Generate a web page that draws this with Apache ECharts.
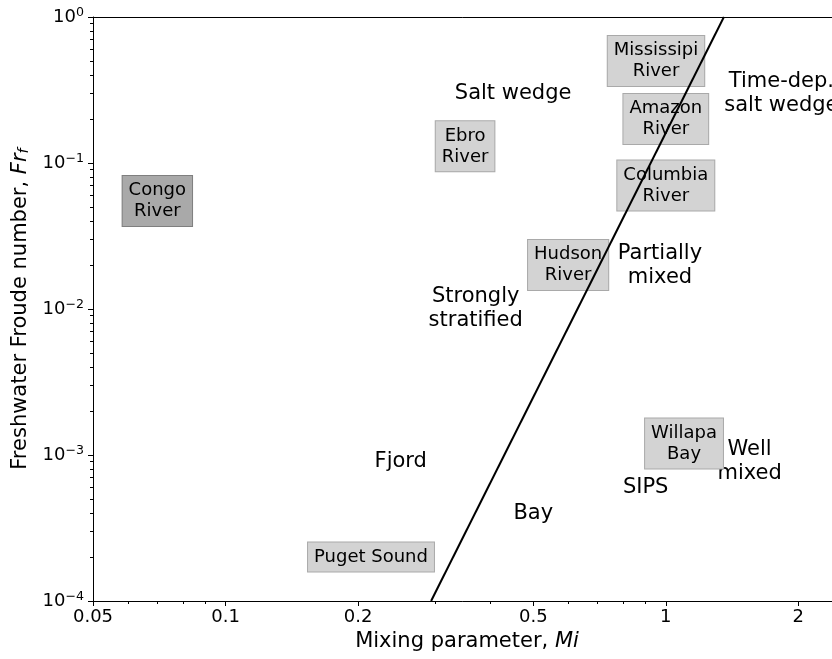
<!DOCTYPE html>
<html><head><meta charset="utf-8">
<script src="https://cdn.jsdelivr.net/npm/echarts@6/dist/echarts.min.js"></script>
<style>html,body{margin:0;padding:0;background:#fff}#c{width:832px;height:659px}</style>
</head><body><div id="c"></div>
<script>
// ---- axis ranges and ticks ----
const xRange = [0.05, 2.5];
const yRange = [1e-4, 1];
const xMajorTicks = [0.05, 0.1, 0.2, 0.5, 1, 2];
const xMinorTicks = [0.06, 0.07, 0.08, 0.09, 0.3, 0.4, 0.6, 0.7, 0.8, 0.9];
const yMajorTicks = [1e-4, 1e-3, 1e-2, 1e-1, 1];
const yMinorTicks = [
  2e-4, 3e-4, 4e-4, 5e-4, 6e-4, 7e-4, 8e-4, 9e-4,
  2e-3, 3e-3, 4e-3, 5e-3, 6e-3, 7e-3, 8e-3, 9e-3,
  2e-2, 3e-2, 4e-2, 5e-2, 6e-2, 7e-2, 8e-2, 9e-2,
  0.2, 0.3, 0.4, 0.5, 0.6, 0.7, 0.8, 0.9
];

// ---- regime boundary line ----
const boundaryMi = [0.293, 1.355];
const boundaryFr = [1e-4, 1];

// ---- estuaries (boxed labels) ----
const estuaryNames = ['Congo\nRiver', 'Ebro\nRiver', 'Mississipi\nRiver', 'Amazon\nRiver',
                      'Columbia\nRiver', 'Hudson\nRiver', 'Willapa\nBay', 'Puget Sound'];
const estuaryMi = [0.07, 0.35, 0.95, 1.0, 1.0, 0.6, 1.1, 0.214];
const estuaryFr = [0.055, 0.13, 0.5, 0.2, 0.07, 0.02, 0.0012, 0.0002];
const estuaryDark = [true, false, false, false, false, false, false, false];

// ---- regime names ----
const regimeNames = ['Salt wedge', 'Time-dep.\nsalt wedge', 'Partially\nmixed', 'Strongly\nstratified',
                     'Fjord', 'Bay', 'SIPS', 'Well\nmixed'];
const regimeMi = [0.45, 1.83, 0.97, 0.37, 0.25, 0.5, 0.9, 1.55];
const regimeFr = [0.3, 0.3, 0.02, 0.01, 0.0009, 0.0004, 0.0006, 0.0009];

const FONT = 'DejaVu Sans';

function fmtX(v) { return String(+(+v).toPrecision(6)); }
function fmtY(v) {
  const e = Math.round(Math.log10(v));
  const s = e < 0 ? '\u2212' + (-e) : String(e);
  return '{b|10}{s|' + s + '}';
}

const chart = echarts.init(document.getElementById('c'), null, {renderer: 'canvas'});

const baseX = {
  type: 'log', logBase: 10, min: xRange[0], max: xRange[1], gridIndex: 0,
  splitLine: {show: false}, minorTick: {show: false}, minorSplitLine: {show: false}
};
const baseY = {
  type: 'log', logBase: 10, min: yRange[0], max: yRange[1], gridIndex: 0,
  splitLine: {show: false}, minorTick: {show: false}, minorSplitLine: {show: false}
};

const option = {
  animation: false,
  backgroundColor: '#fff',
  textStyle: {fontFamily: FONT},
  grid: {left: 93, top: 17, width: 748, height: 584, containLabel: false, outerBoundsMode: 'none', show: false},
  xAxis: [
    Object.assign({}, baseX, {
      position: 'bottom',
      axisLine: {show: true, lineStyle: {color: '#000', width: 1}},
      axisTick: {show: true, length: 5, lineStyle: {color: '#000', width: 1}, customValues: xMajorTicks},
      axisLabel: {show: true, margin: 7, color: '#000', fontSize: 18, fontFamily: FONT,
                  customValues: xMajorTicks, formatter: fmtX},
      name: '{n|Mixing parameter, }{i|Mi}', nameLocation: 'middle', nameGap: 27,
      nameTextStyle: {color: '#000', fontSize: 21, fontFamily: FONT,
        rich: {n: {fontSize: 21, fontFamily: FONT, color: '#000'},
               i: {fontSize: 21, fontFamily: FONT, fontStyle: 'italic', color: '#000'}}}
    }),
    Object.assign({}, baseX, {
      position: 'bottom',
      axisLine: {show: false},
      axisTick: {show: true, length: 3, lineStyle: {color: '#000', width: 1}, customValues: xMinorTicks},
      axisLabel: {show: false}
    }),
    Object.assign({}, baseX, {
      position: 'top',
      axisLine: {show: true, lineStyle: {color: '#000', width: 1}},
      axisTick: {show: false},
      axisLabel: {show: false}
    })
  ],
  yAxis: [
    Object.assign({}, baseY, {
      position: 'left',
      axisLine: {show: true, lineStyle: {color: '#000', width: 1}},
      axisTick: {show: true, length: 5, lineStyle: {color: '#000', width: 1}, customValues: yMajorTicks},
      axisLabel: {show: true, margin: 9, color: '#000', fontFamily: FONT,
                  customValues: yMajorTicks, formatter: fmtY,
                  rich: {b: {fontSize: 18, fontFamily: FONT, color: '#000', lineHeight: 21},
                         s: {fontSize: 12.6, fontFamily: FONT, color: '#000', lineHeight: 13, padding: [0, 0, 8, 0]}}},
      name: '{n|Freshwater Froude number, }{i|Fr}{sub|f}', nameLocation: 'middle', nameGap: 60,
      nameRotate: 90,
      nameTextStyle: {color: '#000', fontSize: 21, fontFamily: FONT,
        rich: {n: {fontSize: 21, fontFamily: FONT, color: '#000', lineHeight: 24},
               i: {fontSize: 21, fontFamily: FONT, fontStyle: 'italic', color: '#000', lineHeight: 24},
               sub: {fontSize: 14.7, fontFamily: FONT, fontStyle: 'italic', color: '#000', lineHeight: 15, padding: [7, 0, 0, 0]}}}
    }),
    Object.assign({}, baseY, {
      position: 'left',
      axisLine: {show: false},
      axisTick: {show: true, length: 3, lineStyle: {color: '#000', width: 1}, customValues: yMinorTicks},
      axisLabel: {show: false}
    })
  ],
  series: [
    {
      type: 'scatter', name: 'regimes', xAxisIndex: 0, yAxisIndex: 0, z: 3, silent: true,
      symbol: 'circle', symbolSize: 0, itemStyle: {color: '#000', opacity: 1},
      label: {show: true, position: 'inside', formatter: p => p.name, color: '#000', opacity: 1,
              textBorderWidth: 0, fontSize: 21, lineHeight: 24, fontFamily: FONT, align: 'center'},
      data: regimeNames.map((n, i) => ({name: n, value: [regimeMi[i], regimeFr[i]]}))
    },
    {
      type: 'scatter', name: 'estuaries', xAxisIndex: 0, yAxisIndex: 0, z: 4, silent: true,
      symbol: 'circle', symbolSize: 0, itemStyle: {color: '#000', opacity: 1},
      label: {show: true, position: 'inside', formatter: p => p.name, color: '#000', opacity: 1,
              textBorderWidth: 0, fontSize: 18, lineHeight: 21, fontFamily: FONT, align: 'center',
              backgroundColor: '#d3d3d3', borderColor: '#a9a9a9', borderWidth: 1, padding: [4, 6]},
      data: estuaryNames.map((n, i) => {
        const d = {name: n, value: [estuaryMi[i], estuaryFr[i]]};
        if (estuaryDark[i]) d.label = {backgroundColor: '#a9a9a9', borderColor: '#7f7f7f'};
        return d;
      })
    },
    {
      type: 'line', name: 'boundary', xAxisIndex: 0, yAxisIndex: 0, z: 10, silent: true,
      symbol: 'none', clip: true,
      lineStyle: {color: '#000', width: 2},
      data: boundaryMi.map((m, i) => [m, boundaryFr[i]])
    }
  ]
};
chart.setOption(option);
</script>
</body></html>
